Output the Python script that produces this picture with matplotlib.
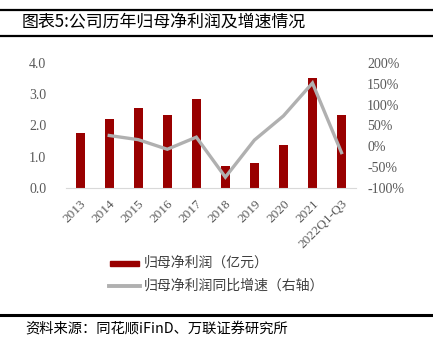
import matplotlib
matplotlib.use("Agg")
import matplotlib.pyplot as plt
from matplotlib.lines import Line2D
from matplotlib.patches import Rectangle

categories = ["2013", "2014", "2015", "2016", "2017", "2018", "2019", "2020", "2021", "2022Q1-Q3"]
net_profit = [1.75, 2.21, 2.55, 2.34, 2.85, 0.70, 0.80, 1.39, 3.51, 2.35]
growth_pct = [None, 26, 16, -7, 22, -74, 15, 73, 152, -15]
left_ticks = [0.0, 1.0, 2.0, 3.0, 4.0]
right_ticks = [-100, -50, 0, 50, 100, 150, 200]

CJK = ["Noto Sans CJK SC", "DejaVu Sans"]
SERIF = ["Liberation Serif", "DejaVu Serif"]
BAR = "#990000"
LINE = "#b0b0b0"
TXT = "#595959"

fig = plt.figure(figsize=(4.33, 3.46), dpi=100)
W, H = 433, 346

def fx(px):
    return px / W

def fy(py):
    return 1 - py / H

# header / footer rules
for y, lw in [(9.5, 1.6), (35.5, 1.6), (315, 2.2)]:
    fig.add_artist(Line2D([0, 1], [fy(y), fy(y)], color="black", lw=lw))

fig.text(fx(22), fy(22), "图表5:公司历年归母净利润及增速情况", family=CJK,
         fontsize=12.2, va="center", ha="left", color="black")
fig.text(fx(25), fy(330), "资料来源：同花顺iFinD、万联证券研究所", family=CJK,
         fontsize=10.3, va="center", ha="left", color="black", style="italic")

ax = fig.add_axes([fx(65.7), fy(188), fx(356 - 65.7), (188 - 63) / H])
x = list(range(len(categories)))
ax.bar(x, net_profit, width=0.31, color=BAR, zorder=2)
ax.set_xlim(-0.5, len(categories) - 0.5)
ax.set_ylim(0, 4.0)
ax.set_yticks(left_ticks)
ax.set_yticklabels([f"{v:.1f}" for v in left_ticks], family=SERIF, fontsize=10, color=TXT)
ax.set_xticks(x)
ax.set_xticklabels(categories, rotation=45, ha="right", va="top", rotation_mode="anchor",
                   family=SERIF, fontsize=9.5, color=TXT)
for s in ["top", "left", "right"]:
    ax.spines[s].set_visible(False)
ax.spines["bottom"].set_color("#d9d9d9")
ax.tick_params(axis="both", length=0)
ax.tick_params(axis="y", pad=14)
ax.tick_params(axis="x", pad=7)

ax2 = ax.twinx()
gx = [i for i, g in zip(x, growth_pct) if g is not None]
gy = [g for g in growth_pct if g is not None]
ax2.plot(gx, gy, color=LINE, lw=2.4, zorder=3, solid_joinstyle="miter")
ax2.set_ylim(-100, 200)
ax2.set_yticks(right_ticks)
ax2.set_yticklabels([f"{v}%" for v in right_ticks], family=SERIF, fontsize=10, color=TXT)
for s in ["top", "left", "right", "bottom"]:
    ax2.spines[s].set_visible(False)
ax2.tick_params(axis="y", length=0, pad=8)

# legend
fig.add_artist(Rectangle((fx(110), fy(265.5)), fx(29), 5 / H, color=BAR))
fig.text(fx(144), fy(263), "归母净利润（亿元）", family=CJK, fontsize=10,
         va="center", ha="left", color="#404040")
fig.add_artist(Line2D([fx(109), fx(140)], [fy(286), fy(286)], color=LINE, lw=2.8))
fig.text(fx(144), fy(286), "归母净利润同比增速（右轴）", family=CJK, fontsize=10,
         va="center", ha="left", color="#404040")

fig.savefig("out.png", dpi=100)
